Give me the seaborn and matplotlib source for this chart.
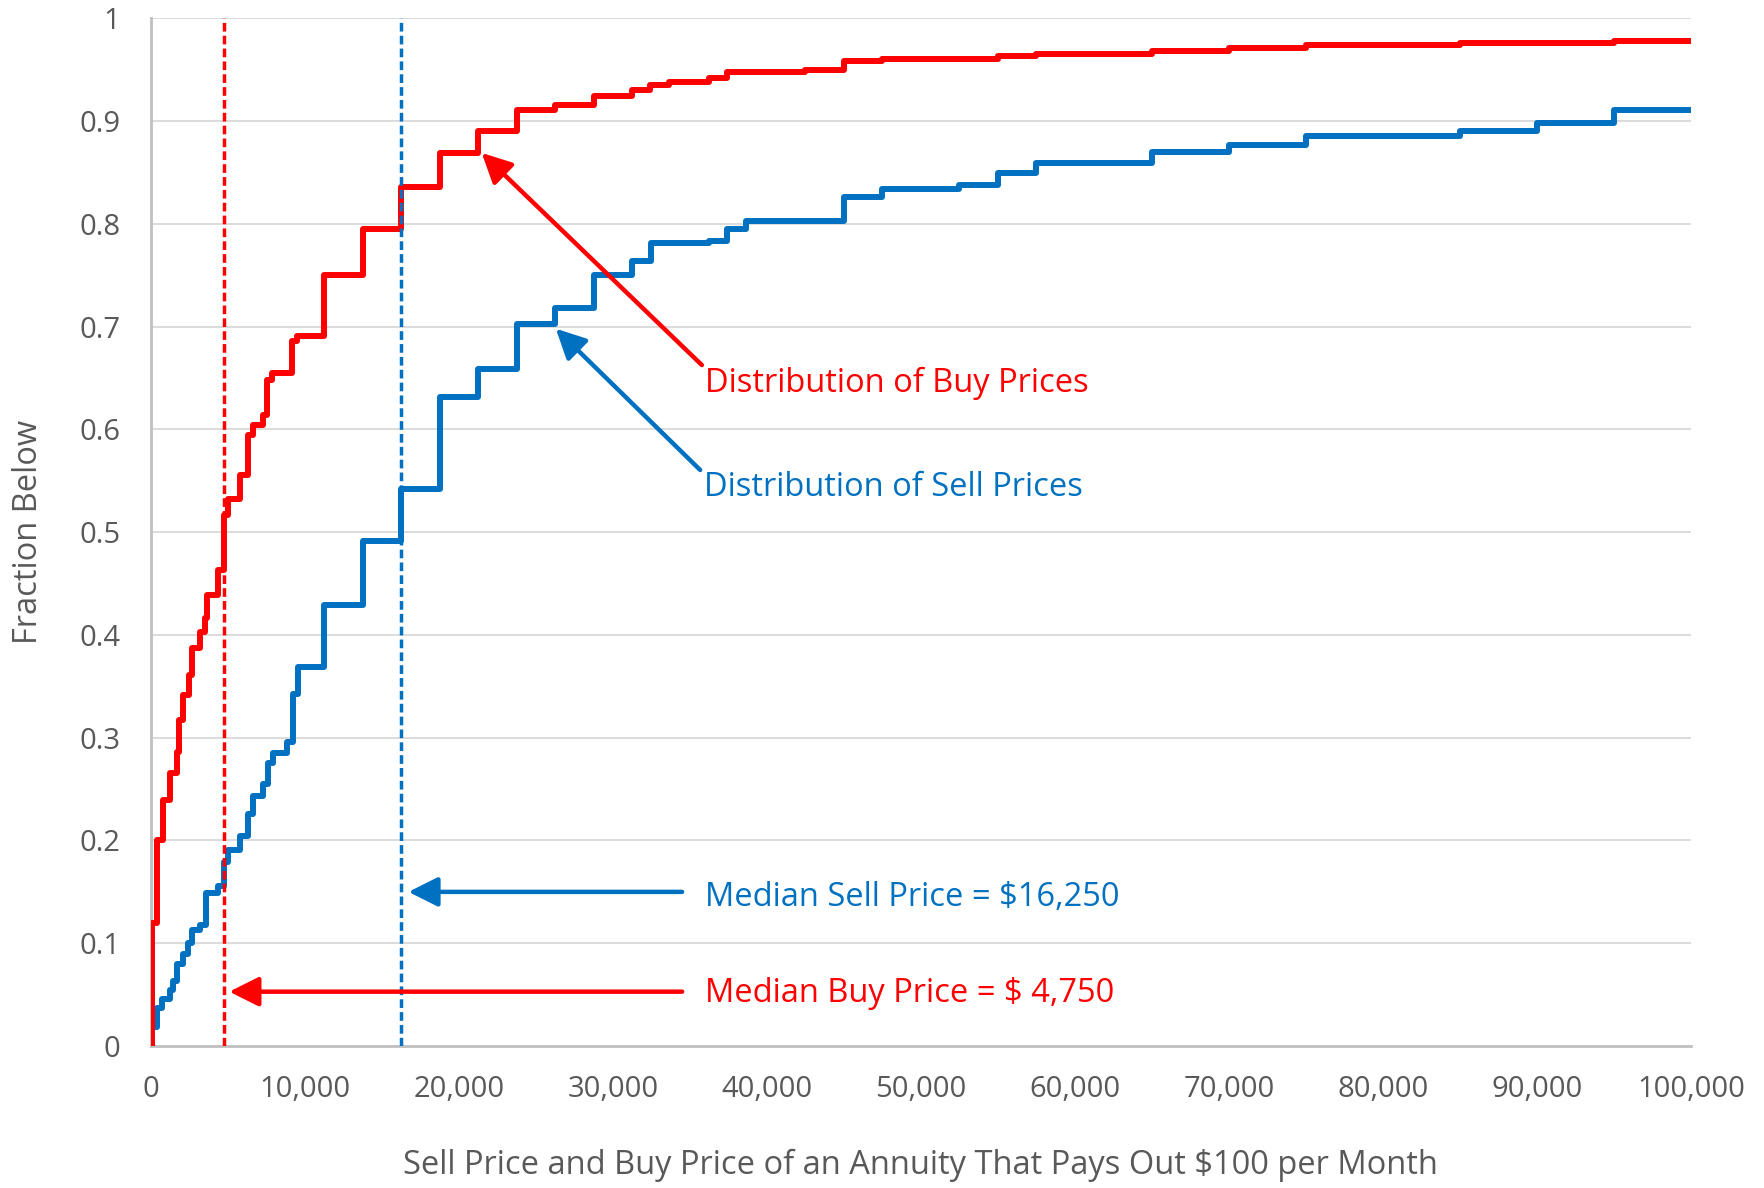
import numpy as np
import pandas as pd
import seaborn as sns
import matplotlib.pyplot as plt
import matplotlib.ticker as mticker

# step points (price where the cumulative fraction jumps, new fraction)
buy_x = [0, 100, 400, 800, 1250, 1690, 1860, 2120, 2500, 2660, 3200, 3520, 3680,
         4390, 4750, 5040, 5800, 6340, 6660, 7310, 7550, 7860, 9150, 9480,
         11250, 13750, 16250, 18750, 21250, 23750, 26250, 28750, 31250, 32400,
         33650, 36250, 37400, 42500, 45000, 47500, 55000, 57500, 65000, 70000,
         75000, 85000, 95000, 100000]
buy_y = [0, 0.12, 0.20, 0.239, 0.266, 0.286, 0.317, 0.342, 0.361, 0.387, 0.403,
         0.416, 0.439, 0.463, 0.517, 0.532, 0.556, 0.595, 0.604, 0.614, 0.648,
         0.655, 0.686, 0.691, 0.750, 0.795, 0.836, 0.869, 0.890, 0.911, 0.916,
         0.924, 0.930, 0.935, 0.938, 0.942, 0.948, 0.950, 0.958, 0.960, 0.963,
         0.965, 0.968, 0.971, 0.974, 0.976, 0.978, 0.978]

sell_x = [0, 100, 400, 750, 1250, 1430, 1690, 2120, 2450, 2660, 3200, 3590,
          4390, 4750, 5040, 5800, 6340, 6660, 7310, 7640, 7960, 8830, 9220,
          9590, 11250, 13750, 16250, 18750, 21250, 23750, 26250, 28750, 31250,
          32450, 36250, 37400, 38650, 45000, 47500, 52500, 55000, 57500, 65000,
          70000, 75000, 85000, 90000, 95000, 100000]
sell_y = [0, 0.019, 0.037, 0.046, 0.0545, 0.063, 0.080, 0.090, 0.100, 0.113,
          0.118, 0.149, 0.156, 0.179, 0.191, 0.204, 0.226, 0.243, 0.255, 0.275,
          0.285, 0.296, 0.343, 0.369, 0.429, 0.491, 0.542, 0.632, 0.659, 0.703,
          0.718, 0.750, 0.764, 0.781, 0.783, 0.795, 0.803, 0.826, 0.834, 0.8375,
          0.8495, 0.859, 0.870, 0.877, 0.885, 0.890, 0.898, 0.911, 0.911]

median_buy = 4750
median_sell = 16250

x_ticks = list(range(0, 100001, 10000))
y_ticks = [0, 0.1, 0.2, 0.3, 0.4, 0.5, 0.6, 0.7, 0.8, 0.9, 1]
y_tick_labels = ['0', '0.1', '0.2', '0.3', '0.4', '0.5', '0.6', '0.7', '0.8', '0.9', '1']

RED = '#FF0000'
BLUE = '#0070C0'
TXT = '#595959'
AXC = '#BFBFBF'

sns.set_style('white')
plt.rcParams['font.family'] = ['Open Sans', 'DejaVu Sans']

fig = plt.figure(figsize=(17.65, 11.88), dpi=100)
ax = fig.add_axes([0.0854, 0.1195, 0.8727, 0.8651])

# gridlines
for v in y_ticks[1:]:
    ax.axhline(v, color='#D9D9D9', lw=1.3, zorder=0)

buy = pd.DataFrame({'price': buy_x, 'frac': buy_y})
sell = pd.DataFrame({'price': sell_x, 'frac': sell_y})

sns.lineplot(data=sell, x='price', y='frac', drawstyle='steps-post', color=BLUE,
             lw=4.3, estimator=None, ax=ax, zorder=3)
sns.lineplot(data=buy, x='price', y='frac', drawstyle='steps-post', color=RED,
             lw=4.3, estimator=None, ax=ax, zorder=3)

# median lines
ax.axvline(median_buy, color=RED, lw=2.5, ls=(0, (2.5, 1.2)), zorder=4)
ax.axvline(median_sell, color=BLUE, lw=2.5, ls=(0, (2.5, 1.2)), zorder=4)

# annotations
def arrow(tail, head, color):
    ax.annotate('', xy=head, xytext=tail,
                arrowprops=dict(arrowstyle='-|>,head_length=18,head_width=9',
                                mutation_scale=1, color=color, lw=3.2,
                                shrinkA=0, shrinkB=0), zorder=5)

arrow((35780, 0.6626), (21490, 0.869), RED)
arrow((35670, 0.5605), (26300, 0.698), BLUE)
arrow((34500, 0.150), (16730, 0.150), BLUE)
arrow((34500, 0.0529), (5100, 0.0529), RED)

fs = 23.5
ax.text(36000, 0.6367, 'Distribution of Buy Prices', color=RED, fontsize=fs, va='baseline')
ax.text(35900, 0.5352, 'Distribution of Sell Prices', color=BLUE, fontsize=fs, va='baseline')
ax.text(36000, 0.1365, 'Median Sell Price = $16,250', color=BLUE, fontsize=fs, va='baseline')
ax.text(36000, 0.0431, 'Median Buy Price = $ 4,750', color=RED, fontsize=fs, va='baseline')

ax.set_xlim(0, 100000)
ax.set_ylim(0, 1)

ax.set_xticks(x_ticks)
ax.set_xticklabels([f'{v:,}' for v in x_ticks])
ax.xaxis.set_minor_locator(mticker.MultipleLocator(2000))
ax.set_yticks(y_ticks)
ax.set_yticklabels(y_tick_labels)

ax.tick_params(axis='x', which='major', direction='inout', length=13, width=2,
               color=AXC, labelcolor=TXT, labelsize=21, pad=14)
ax.tick_params(axis='x', which='minor', direction='out', length=5, width=1.5, color=AXC)
ax.tick_params(axis='y', direction='inout', length=14, width=2, color=AXC,
               labelcolor=TXT, labelsize=21, pad=15)

for s in ['top', 'right']:
    ax.spines[s].set_visible(False)
for s in ['left', 'bottom']:
    ax.spines[s].set_color(AXC)
    ax.spines[s].set_linewidth(2)

ax.set_xlabel('Sell Price and Buy Price of an Annuity That Pays Out $100 per Month',
              fontsize=23.5, color=TXT)
ax.set_ylabel('Fraction Below', fontsize=23.5, color=TXT)
ax.xaxis.set_label_coords(0.5, -0.116)
ax.xaxis.label.set_va('center')
ax.yaxis.set_label_coords(-0.0795, 0.5)
ax.yaxis.label.set_va('center')

fig.savefig('out.png', dpi=100, facecolor='white')
